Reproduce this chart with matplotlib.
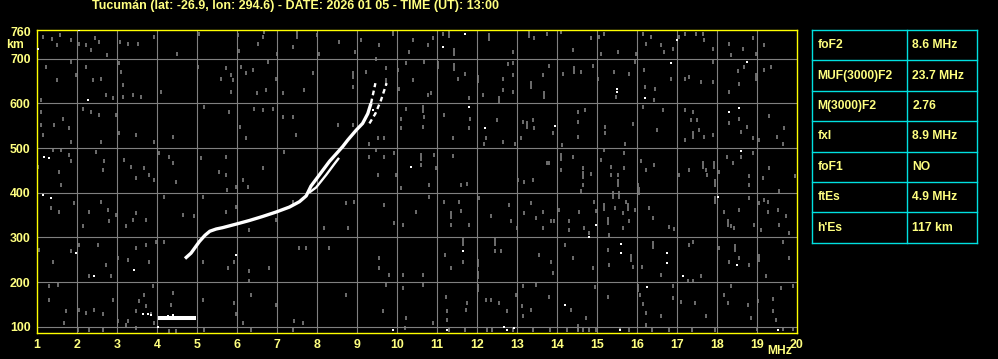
import matplotlib
matplotlib.use("Agg")
import matplotlib.pyplot as plt

# ---------------- data ----------------
title = "Tucumán (lat: -26.9, lon: 294.6) - DATE: 2026 01 05 - TIME (UT): 13:00"
x_ticks = list(range(1, 21))
y_ticks = [100, 200, 300, 400, 500, 600, 700, 760]

table_labels = ["foF2", "MUF(3000)F2", "M(3000)F2", "fxI", "foF1", "ftEs", "h'Es"]
table_values = ["8.6 MHz", "23.7 MHz", "2.76", "8.9 MHz", "NO", "4.9 MHz", "117 km"]

# F-layer ordinary trace (MHz, km)
o_f = [4.70, 4.85, 5.06, 5.20, 5.32, 5.48, 5.64, 5.98, 6.31, 6.64, 6.98, 7.31, 7.56, 7.73,
       7.85, 8.06, 8.31, 8.64, 8.77, 8.98, 9.14, 9.27, 9.35]
o_h = [253, 265, 291, 305, 314, 319, 322, 330, 338, 347, 357, 368, 380, 393,
       415, 440, 470, 503, 518, 540, 555, 577, 600]
o_top_f = [9.35, 9.40, 9.46]
o_top_h = [600, 620, 645]
# extraordinary trace pieces
x_f = [7.80, 7.98, 8.23, 8.43, 8.55]
x_h = [400, 412, 440, 464, 478]
x_top_f = [9.31, 9.46, 9.60, 9.74]
x_top_h = [555, 577, 607, 645]
# sporadic E
es_f = [4.02, 4.97]
es_h = [119, 119]

# background speckles (gray, short)
gray_f = [1.14, 1.38, 1.58, 1.49, 1.85, 2.04, 2.23, 2.35, 2.46, 2.56, 2.74, 3.08, 3.27, 3.52, 3.93, 4.5, 5.06, 6.02, 6.04, 6.52, 6.64, 6.68, 7.0, 7.39, 8.0, 8.06, 8.56, 8.95, 9.1, 9.56, 10.29, 10.39,
          1.22, 1.49, 1.85, 1.97, 2.23, 2.39, 2.6, 2.73, 2.89, 3.06, 3.1, 3.16, 3.16, 3.39, 3.6, 4.1, 5.02, 5.6, 5.72, 5.85, 5.89, 5.85, 6.1, 6.22, 6.39, 6.49, 6.77, 6.72, 6.98, 7.14, 7.68, 7.89, 8.89, 9.22, 9.47, 9.72, 10.02, 10.04, 10.22, 10.39, 1.1,
          1.1, 1.1, 1.14, 1.43, 1.64, 1.81, 1.85, 2.14, 2.35, 2.56, 2.6, 2.98, 3.06, 3.48, 3.93, 4.39, 5.18, 5.81, 6.08, 6.22, 6.43, 6.64, 6.89, 7.14, 7.39, 7.48, 8.52, 8.89, 9.31, 9.52, 9.68, 10.1, 10.1, 10.22,
          1.02, 1.39, 1.6, 1.81, 1.85, 1.56, 1.6, 2.48, 2.64, 2.68, 3.18, 3.35, 3.48, 3.68, 3.81, 3.93, 4.06, 4.31, 4.39, 4.48, 5.1, 5.56, 5.72, 5.72, 5.74, 5.98, 6.14, 6.27, 6.64, 7.18, 9.31, 9.47, 9.68, 9.52, 9.93, 9.98, 10.1,
          1.35, 1.56, 1.93, 2.14, 2.31, 2.6, 2.77, 2.81, 2.98, 3.23, 3.39, 3.48, 3.73, 4.18, 4.64, 4.93, 5.14, 5.72, 5.98, 6.31, 6.98, 7.39, 8.18, 8.73, 8.93, 8.77, 9.68, 9.93, 10.14,
          1.06, 1.39, 1.85, 2.06, 2.52, 2.73, 3.02, 3.27, 3.48, 3.73, 3.81, 3.98, 4.18, 5.14, 5.77, 5.93, 6.31, 6.81, 7.56, 7.73, 8.31, 9.56, 9.56, 9.81, 10.14, 2.31, 2.85,
          1.31, 1.31, 1.52, 1.73, 1.68, 2.06, 2.23, 2.43, 2.64, 2.89, 3.02, 3.27, 3.48, 3.56, 3.68, 3.73, 3.89, 3.85, 3.93, 4.39, 4.35, 5.14, 5.93, 5.98, 6.14, 6.31, 6.35, 6.98, 7.43, 7.64, 8.73, 9.64, 10.14, 10.22, 9.73,
          2.02, 2.31, 2.64, 3.23, 3.48, 4.31, 4.48, 5.18, 6.35, 7.39, 10.2,
          11.14, 10.77, 10.89, 12.89, 13.43, 13.74, 14.1, 14.39, 14.85, 15.06, 15.18, 15.1, 15.52, 15.98, 16.14, 16.23, 16.35, 16.6, 16.68, 16.89, 17.06, 17.21, 17.48, 17.66, 17.68, 17.89, 18.31, 18.35, 18.64, 18.89, 18.98, 19.18,
          10.68, 11.52, 11.71, 12.14, 12.64, 12.64, 12.77, 12.89, 12.91, 12.91, 13.64, 13.81, 14.14, 14.6, 14.89, 15.02, 15.43, 15.48, 15.81, 15.95, 16.18, 16.2, 16.45, 16.43, 16.85, 17.21, 17.31, 17.6, 17.89, 17.89, 18.31, 18.52, 18.56, 18.68, 19.18, 19.35, 10.77, 10.85, 11.81,
          10.68, 10.64, 11.18, 11.39, 11.83, 11.81, 12.23, 12.18, 12.49, 12.66, 12.96, 13.1, 13.14, 13.39, 13.43, 13.89, 14.12, 14.52, 14.52, 14.71, 14.52, 15.21, 15.21, 15.7, 15.89, 16.14, 16.5, 16.64, 17.21, 17.21, 17.39, 17.35, 17.5, 17.56, 17.68, 17.89, 18.31, 18.56, 18.6, 18.74, 18.89, 19.06, 19.31, 19.49, 19.64, 19.68,
          10.6, 10.93, 10.98, 10.79, 11.39, 11.6, 11.74, 13.02, 13.18, 13.39, 13.74, 13.81, 14.1, 14.39, 14.64, 14.64, 14.6, 14.85, 15.1, 15.18, 15.35, 15.35, 15.53, 15.68, 15.68, 16.02, 16.1, 16.23, 16.43, 17.04, 17.31, 17.73, 17.74, 18.06, 18.25, 18.39, 18.6, 18.81, 18.89, 18.81, 19.14, 19.31, 19.56, 19.96,
          10.48, 10.79, 11.18, 11.35, 11.54, 11.6, 11.79, 12.06, 12.35, 12.81, 12.85, 12.99, 13.18, 13.35, 13.48, 13.64, 13.64, 13.85, 13.93, 14.04, 14.31, 14.31, 14.56, 14.68, 14.81, 14.93, 14.98, 15.31, 15.46, 15.64, 15.66, 15.73, 15.81, 15.95, 16.29, 16.39, 16.81, 16.93, 18.18, 18.35, 18.43, 18.56, 18.81, 18.93, 19.06, 19.1, 19.18, 19.27, 19.27, 19.56, 19.73, 19.81, 19.52,
          10.64, 11.21, 11.35, 11.64, 12.45, 12.6, 13.56, 13.85, 13.89, 14.2, 14.39, 14.89, 15.29, 15.28, 15.89, 16.12, 16.6, 17.31, 17.39, 17.6, 18.06, 18.31, 18.56, 18.81, 19.23, 19.79, 19.64,
          10.64, 11.23, 11.24, 11.24, 11.75, 11.73, 12.23, 12.35, 12.54, 12.74, 12.98, 13.14, 13.12, 13.16, 13.35, 13.48, 13.81, 14.35, 14.73, 14.95, 15.27, 16.08, 16.14, 16.23, 16.6, 16.89, 16.89, 17.1, 17.27, 17.39, 17.46, 17.73, 18.18, 18.27, 18.35, 18.77, 18.85, 19.02, 19.39, 19.39, 19.48, 19.6, 19.89,
          10.9, 11.3, 11.7, 12.26, 12.38, 12.9, 13.4, 13.82, 14.26, 14.52, 14.64, 14.81, 14.98, 15.58, 15.8, 16.22, 16.38, 16.8, 17.38, 17.96, 19.0, 19.66, 19.9]
gray_h = [748, 743, 752, 730, 741, 733, 730, 719, 745, 737, 707, 737, 733, 733, 748, 711, 756, 752, 716, 733, 748, 759, 711, 726, 752, 711, 737, 715, 741, 730, 715, 741,
          681, 652, 693, 663, 681, 652, 655, 618, 611, 689, 670, 641, 614, 618, 614, 626, 681, 655, 678, 663, 652, 626, 681, 667, 674, 622, 693, 629, 655, 622, 629, 667, 637, 670, 700, 678, 674, 633, 689, 652, 607,
          581, 552, 529, 552, 566, 544, 514, 588, 581, 574, 514, 574, 533, 529, 514, 525, 592, 581, 548, 522, 588, 585, 588, 570, 570, 529, 551, 551, 510, 522, 522, 566, 544, 588,
          458, 496, 496, 484, 470, 447, 417, 492, 451, 470, 473, 458, 432, 455, 440, 429, 488, 481, 466, 425, 477, 447, 481, 440, 406, 414, 429, 414, 455, 492, 481, 496, 481, 440, 488, 440, 410,
          365, 358, 377, 325, 358, 380, 362, 336, 351, 325, 339, 354, 339, 391, 351, 347, 391, 358, 369, 317, 339, 380, 321, 377, 380, 321, 373, 332, 328,
          272, 246, 269, 284, 284, 239, 254, 250, 276, 284, 246, 291, 291, 246, 232, 246, 224, 232, 276, 276, 276, 254, 232, 217, 217, 213, 213,
          191, 161, 194, 135, 109, 139, 131, 139, 128, 161, 113, 113, 135, 157, 172, 146, 191, 128, 109, 176, 150, 161, 154, 128, 109, 202, 172, 150, 113, 109, 172, 135, 187, 120, 194,
          94, 94, 94, 105, 98, 92, 92, 94, 94, 94, 98,
          756, 730, 745, 715, 745, 756, 759, 719, 745, 748, 756, 711, 715, 711, 756, 733, 748, 730, 715, 722, 748, 756, 756, 756, 741, 722, 733, 707, 722, 745, 711, 730,
          693, 655, 665, 618, 655, 629, 687, 689, 663, 626, 663, 684, 665, 670, 684, 655, 670, 614, 665, 693, 674, 637, 633, 607, 655, 655, 659, 648, 648, 693, 626, 672, 644, 681, 674, 681, 618, 622, 611,
          570, 548, 574, 522, 566, 544, 522, 510, 562, 514, 510, 522, 559, 562, 544, 533, 507, 581, 559, 585, 525, 548, 533, 510, 554, 591, 540, 585, 585, 518, 581, 562, 562, 540, 525, 529, 555, 566, 536, 548, 522, 518, 572, 525, 510, 545,
          462, 484, 455, 417, 483, 417, 420, 429, 423, 429, 466, 466, 451, 481, 455, 417, 403, 441, 473, 496, 458, 440, 440, 488, 455, 417, 470, 451, 461, 440, 451, 451, 440, 447, 481, 466, 481, 438, 488, 417, 432, 455, 403, 437,
          357, 391, 380, 327, 380, 359, 327, 388, 347, 373, 336, 321, 354, 377, 343, 358, 321, 337, 337, 362, 337, 317, 358, 321, 310, 380, 359, 306, 367, 354, 321, 380, 336, 362, 365, 343, 323, 319, 358, 325, 321, 362, 388, 328, 377, 317, 384, 380, 358, 328, 347, 310, 362,
          217, 261, 232, 246, 270, 270, 261, 246, 220, 284, 254, 232, 239, 272, 235, 235, 217, 284, 291, 213, 276, 246, 254, 239, 213, 254, 291,
          194, 168, 135, 116, 154, 139, 161, 161, 154, 135, 172, 191, 146, 124, 139, 194, 168, 139, 120, 189, 168, 172, 151, 131, 124, 191, 165, 156, 202, 202, 154, 124, 172, 154, 191, 150, 120, 157, 163, 135, 116, 187, 191,
          109, 94, 94, 94, 94, 94, 94, 94, 94, 96, 94, 94, 94, 96, 94, 105, 94, 94, 94, 94, 96, 96, 96]

# background speckles (gray, tall)
tall_f = [7.5, 9.89, 8.89, 9.72, 11.29, 11.43, 12.31, 13.31, 11.02, 11.43, 12.02, 12.56, 13.35, 13.68, 14.43, 18.98,
          10.64, 13.25, 17.39, 10.6, 14.1, 14.64, 15.53, 17.64, 17.93, 17.95, 11.35, 15.18, 15.27, 15.39, 15.56, 15.78,
          16.06, 17.96, 18.27, 11.64, 12.02, 12.02, 12.45, 15.85, 16.39, 18.45, 19.06, 12.02, 16.02, 14.52]
tall_h = [752, 759, 663, 648, 756, 715, 748, 756, 685, 681, 655, 607, 641, 618, 674, 659,
          588, 551, 529, 481, 481, 440, 421, 462, 462, 421, 350, 369, 336, 395, 395, 369,
          403, 384, 332, 291, 243, 217, 291, 254, 284, 276, 254, 187, 187, 97]

# white dots
white_f = [2.04, 1.02, 2.27, 1.18, 1.29, 10.35, 1.14, 1.35, 1.97, 3.43, 5.98, 2.43, 3.64, 3.77, 3.85, 4.27, 4.39,
           4.02, 9.89, 11.71, 11.14, 16.99, 15.49, 15.49, 16.2, 16.85, 18.74, 11.81, 12.2, 13.96, 18.29, 18.54,
           18.6, 14.79, 14.98, 18.02, 11.64, 15.6, 15.6, 16.75, 16.74, 17.14, 18.49, 14.2, 16.24,
           11.24, 12.68, 12.74, 12.93, 15.58, 19.52, 9.41, 9.46]
white_h = [764, 722, 607, 481, 477, 458, 394, 388, 265, 228, 261, 213, 128, 129, 126, 125, 126,
           101, 94, 756, 726, 741, 633, 626, 611, 689, 693, 592, 544, 549, 580, 590,
           493, 302, 328, 391, 269, 285, 265, 265, 243, 213, 238, 148, 189,
           94, 101, 94, 98, 94, 94, 585, 575]

# ---------------- style ----------------
YEL = "#ffff00"
TXT = "#ffff80"
GRAY = "#808080"
CYAN = "#00e0e0"
FONT = ["Liberation Sans", "DejaVu Sans"]

W, H = 998, 359
fig = plt.figure(figsize=(W / 100, H / 100), dpi=100, facecolor="black")

ax = fig.add_axes([37 / W, 1 - 333 / H, 760 / W, (333 - 29.5) / H])
ax.set_facecolor("black")
ax.set_xlim(1, 20)
ax.set_ylim(86.5, 765)

for xv in x_ticks[1:-1]:
    ax.axvline(xv, color=GRAY, lw=0.8, zorder=1)
for yv in y_ticks[:-1]:
    ax.axhline(yv, color=GRAY, lw=0.8, zorder=1)

ax.plot(gray_f, gray_h, ls="none", marker="|", ms=2.6, mew=1.2, color=GRAY,
        antialiased=False, zorder=2)
ax.plot(tall_f, tall_h, ls="none", marker="|", ms=5.5, mew=1.2, color=GRAY,
        antialiased=False, zorder=2)
ax.plot(white_f, white_h, ls="none", marker="s", ms=1.6, mew=0, color="white", zorder=3)

ax.plot(o_f, o_h, color="white", lw=2.4, solid_capstyle="butt", zorder=4)
ax.plot(o_top_f, o_top_h, color="white", lw=1.7, ls=(0, (2, 1.5)), zorder=4)
ax.plot(x_f, x_h, color="white", lw=1.7, solid_capstyle="butt", zorder=4)
ax.plot(x_top_f, x_top_h, color="white", lw=1.7, ls=(0, (2, 1.5)), zorder=4)
ax.plot(es_f, es_h, color="white", lw=2.9, solid_capstyle="butt", zorder=4)

for s in ax.spines.values():
    s.set_color(YEL)
    s.set_linewidth(1.0)

ax.set_xticks(x_ticks)
ax.set_xticklabels([str(v) for v in x_ticks])
ax.set_yticks(y_ticks)
ax.set_yticklabels([str(v) for v in y_ticks])
ax.tick_params(length=0, colors=TXT, labelsize=8.9, pad=4.5)
for lab in ax.get_xticklabels() + ax.get_yticklabels():
    lab.set_fontfamily(FONT)
    lab.set_fontweight("bold")
    lab.set_color(TXT)

fig.text(780 / W, 1 - 351 / H, "MHz", color=TXT, fontsize=8.7, fontweight="bold",
         family=FONT, ha="center", va="center")
fig.text(6 / W, 1 - 45.5 / H, "km", color=TXT, fontsize=8.7, fontweight="bold",
         family=FONT, ha="left", va="center")
fig.text(295 / W, 1 - 6.5 / H, title, color=TXT, fontsize=9.0, fontweight="bold",
         family=FONT, ha="center", va="center")

# ---------------- table ----------------
tx0, tx1, tdiv = 812, 977, 907
ty0, ty1 = 30, 242.7
tab = fig.add_axes([tx0 / W, 1 - ty1 / H, (tx1 - tx0) / W, (ty1 - ty0) / H])
tab.set_facecolor("black")
n = len(table_labels)
tab.set_xlim(tx0, tx1)
tab.set_ylim(n, 0)
tab.axis("off")
lw_c = 1.0
for i in range(n + 1):
    tab.plot([tx0, tx1], [i, i], color=CYAN, lw=lw_c, clip_on=False)
tab.plot([tx0, tx0], [0, n], color=CYAN, lw=lw_c, clip_on=False)
tab.plot([tx1, tx1], [0, n], color=CYAN, lw=lw_c, clip_on=False)
tab.plot([tdiv, tdiv], [0, n], color=CYAN, lw=lw_c, clip_on=False)
for i, (lab, val) in enumerate(zip(table_labels, table_values)):
    tab.text(tx0 + 5.5, i + 0.5, lab, color=TXT, fontsize=8.7, fontweight="bold",
             family=FONT, ha="left", va="center")
    tab.text(tdiv + 5.5, i + 0.5, val, color=TXT, fontsize=8.7, fontweight="bold",
             family=FONT, ha="left", va="center")

fig.savefig("out.png", dpi=100, facecolor="black")
